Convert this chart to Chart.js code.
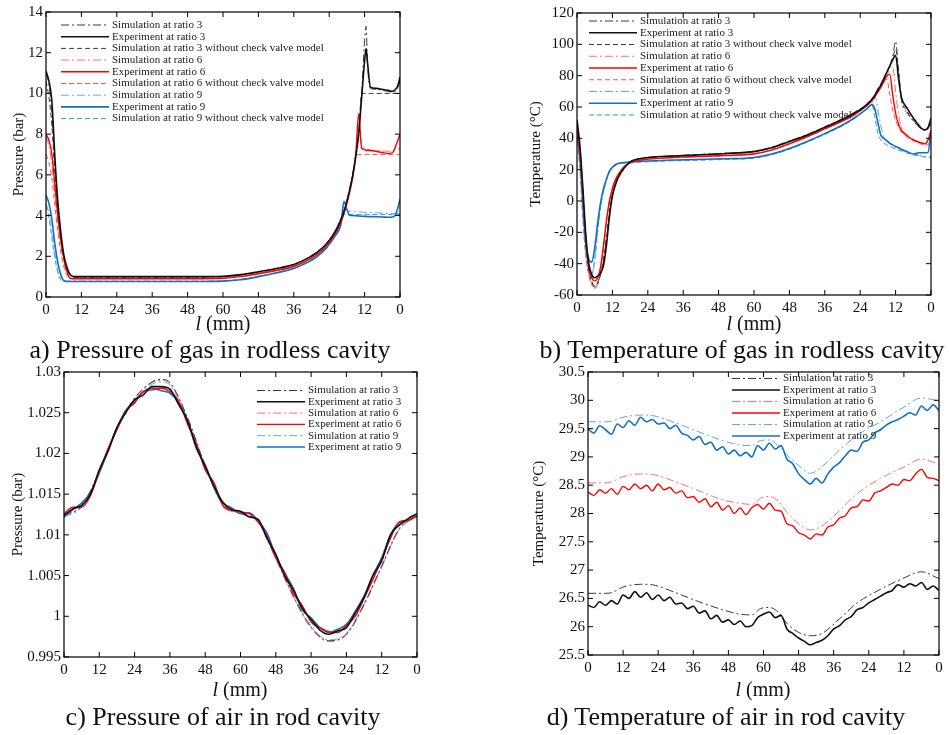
<!DOCTYPE html>
<html>
<head>
<meta charset="utf-8">
<script src="https://cdn.jsdelivr.net/npm/chart.js@4/dist/chart.umd.min.js"></script>
<style>
  body { margin: 0; background: #fff; width: 949px; height: 735px; position: relative; overflow: hidden; font-family: "Liberation Serif", "DejaVu Serif", serif; color: #111; }
  canvas { position: absolute; }
  .xt { position: absolute; font-size: 20px; transform: translateX(-50%); white-space: nowrap; line-height: 20px; }
  .cap { position: absolute; font-size: 26px; transform: translateX(-50%); white-space: nowrap; line-height: 28px; }
</style>
</head>
<body>
<canvas id="ca" width="410" height="320" style="left:0;top:0"></canvas>
<canvas id="cb" width="439" height="320" style="left:510px;top:0"></canvas>
<canvas id="cc" width="430" height="320" style="left:0;top:360px"></canvas>
<canvas id="cd" width="429" height="320" style="left:520px;top:360px"></canvas>

<div class="xt" style="left:223px;top:313px"><i>l</i> (mm)</div>
<div class="xt" style="left:754px;top:313px"><i>l</i> (mm)</div>
<div class="xt" style="left:240px;top:679px"><i>l</i> (mm)</div>
<div class="xt" style="left:763px;top:679px"><i>l</i> (mm)</div>

<div class="cap" style="left:210px;top:336px">a) Pressure of gas in rodless cavity</div>
<div class="cap" style="left:742px;top:336px">b) Temperature of gas in rodless cavity</div>
<div class="cap" style="left:223px;top:703px">c) Pressure of air in rod cavity</div>
<div class="cap" style="left:726px;top:703px">d) Temperature of air in rod cavity</div>

<script>
// stroke position l: 0 -> 60 mm (extend) then 60 -> 0 mm (retract), plotted as 0..120
const strokeTicks = [0, 12, 24, 36, 48, 60, 48, 36, 24, 12, 0];

// ---- a) pressure of gas in rodless cavity (bar)
const xA = [0,1,2,3,4,5,6,7,8,9,10,12,20,30,40,50,60,66,72,78,84,88,92,95,98,100,101,102,103,104,105,106,107,108,108.5,109,110,112,114,116,117.5,118.5,119.3,120];
const aSim3 = [11.0,10.4,9.0,6.5,4.4,3.0,2.0,1.45,1.12,1.0,0.98,0.98,0.98,0.98,0.98,0.98,1.0,1.08,1.22,1.39,1.6,1.86,2.22,2.62,3.24,3.85,4.25,4.75,5.35,6.05,7.0,8.1,10.0,12.6,13.3,11.4,10.25,10.2,10.15,10.1,10.05,10.1,10.3,10.6];
const aExp3 = [11.1,10.6,9.6,6.9,4.7,3.2,2.1,1.5,1.15,1.02,1.0,1.0,1.0,1.0,1.0,1.0,1.02,1.1,1.24,1.4,1.6,1.85,2.2,2.6,3.2,3.8,4.2,4.7,5.3,6.0,6.9,8.0,9.8,11.6,12.2,11.5,10.3,10.25,10.2,10.15,10.1,10.2,10.4,10.8];
const aNoCv3 = [10.6,9.8,8.4,6.1,4.2,2.9,1.95,1.4,1.1,1.0,0.98,0.98,0.98,0.98,0.98,0.98,1.0,1.08,1.22,1.39,1.6,1.86,2.22,2.62,3.24,3.85,4.25,4.75,5.35,6.05,7.0,8.1,10.0,10.0,10.0,10.0,10.0,10.0,10.0,10.0,10.0,10.0,10.0,10.0];
const aSim6 = [7.9,7.4,6.5,5.0,3.6,2.5,1.75,1.2,0.95,0.92,0.92,0.92,0.92,0.92,0.92,0.92,0.95,1.03,1.17,1.33,1.53,1.78,2.13,2.53,3.13,3.73,4.13,4.63,5.25,5.95,6.9,8.4,7.5,7.3,7.25,7.25,7.22,7.2,7.18,7.16,7.15,7.2,7.25,7.3];
const aExp6 = [8.0,7.7,7.0,5.5,4.0,2.8,1.9,1.3,0.95,0.9,0.9,0.9,0.9,0.9,0.9,0.9,0.92,1.0,1.14,1.3,1.5,1.75,2.1,2.5,3.1,3.7,4.1,4.6,5.2,5.9,7.0,9.0,7.3,7.25,7.2,7.2,7.2,7.15,7.1,7.05,7.1,7.4,7.7,8.0];
const aNoCv6 = [7.0,6.6,5.8,4.5,3.2,2.2,1.5,1.1,0.92,0.9,0.9,0.9,0.9,0.9,0.9,0.9,0.93,1.01,1.15,1.31,1.51,1.76,2.11,2.51,3.11,3.71,4.11,4.61,5.22,5.92,6.9,7.0,7.0,7.0,7.0,7.0,7.0,7.0,7.0,7.0,7.0,7.0,7.0,7.0];
const aSim9 = [4.6,4.1,3.2,2.1,1.3,0.9,0.8,0.78,0.78,0.78,0.78,0.78,0.78,0.78,0.78,0.78,0.8,0.87,1.02,1.2,1.42,1.67,2.02,2.42,3.02,3.62,4.5,4.25,4.22,4.2,4.19,4.18,4.17,4.16,4.16,4.15,4.15,4.14,4.12,4.1,4.1,4.1,4.1,4.1];
const aExp9 = [5.0,4.6,3.8,2.6,1.7,1.1,0.8,0.76,0.76,0.76,0.76,0.76,0.76,0.76,0.76,0.76,0.78,0.85,1.0,1.18,1.4,1.65,2.0,2.4,3.0,3.6,4.7,4.3,4.0,4.0,3.99,3.98,3.97,3.96,3.96,3.95,3.95,3.94,3.93,3.92,3.93,4.05,4.4,4.8];
const aNoCv9 = [4.5,3.9,2.9,1.9,1.2,0.85,0.78,0.77,0.77,0.77,0.77,0.77,0.77,0.77,0.77,0.77,0.79,0.86,1.01,1.19,1.41,1.66,2.01,2.41,3.01,3.61,4.05,4.05,4.05,4.05,4.05,4.05,4.05,4.05,4.05,4.05,4.05,4.05,4.05,4.05,4.05,4.05,4.05,4.05];

// ---- b) temperature of gas in rodless cavity (°C)
const xB = [0,1,2,3,4,5,6,7,8,9,10,11,12,13,14,16,18,20,24,30,40,50,60,66,72,78,84,90,94,98,100,101,102,103,104,105,106,107,108,109,110,112,114,116,117,118,119,120];
const bSim3 = [50,32,4,-26,-44,-52,-55,-53,-47,-38,-24,-8,4,11,16,21.5,25,26.5,27.8,28.5,29.5,30.5,31.8,34.3,38.3,42.3,47.3,52.5,56.5,61.5,65.5,68,71.5,74.5,78.5,82.5,86.5,92,102,82,64,56,51,47,45.5,45,46,50];
const bExp3 = [52,35,8,-22,-40,-47,-49,-48,-46,-41,-28,-10,3,10,15,21,25,26.5,27.8,28.5,29.3,30.2,31.5,34,38,42,47,52,56,61,65,67.5,71,74,78,82,86,90,93,78,66,59,53,48,46,45.5,47,53];
const bNoCv3 = [50,33,5,-25,-43,-51,-54,-52,-46,-37,-23,-7,4.5,11.5,16.5,21.5,25,26.5,27.8,28.5,29.5,30.5,31.8,34.3,38.3,42.3,47.3,52.5,56.5,61.5,65.5,68,71.5,74.5,78.5,82.5,86.5,91,97,84,66,57,51.5,47.5,46,45.5,46,49];
const bSim6 = [45,28,0,-30,-47,-54,-56,-53,-44,-30,-14,-1,7,13,16.5,21.5,24,25.3,26.6,27.3,28.2,29,30.2,32.8,36.8,41.3,46.3,51.3,55.5,61,64.5,67,70,73,76.5,80,84,86,70,55,47,42,39.5,37.5,36.5,36,36.5,40];
const bExp6 = [46,30,4,-25,-42,-49,-51,-49,-42,-28,-12,0,8,13.5,17,22,24.5,25.5,26.8,27.5,28.3,29,30,32.5,36.5,41,46,51,55,60.5,64,66.5,69.5,72.5,76,79.5,81,68,56,49,45,41.5,39,37.5,37,36.5,39,45];
const bNoCv6 = [44,27,-1,-29,-46,-53,-55,-52,-43,-29,-13,0,7.5,13,16.5,21.5,24,25.3,26.6,27.3,28.2,29,30.2,32.8,36.8,41.3,46.3,51.3,55.5,61,64.5,67,70,73.5,77,78,68,58,52,47,44,40.5,38.5,37,36,35.5,36,38];
const bSim9 = [40,22,-10,-35,-45,-47,-38,-20,-4,6,13,18.5,21.5,23,24,24.5,24.8,25,25.3,25.8,26.3,26.8,27.6,29.8,33.3,37.8,42.8,48.3,53,58.8,62.5,67,58,48,41,38,36.5,35.3,34.3,33.5,32.7,31.2,30,29.2,28.8,28.5,28.3,28.2];
const bExp9 = [45,28,-2,-28,-37,-39,-30,-14,-1,8,14,19,21.5,23,24,24.5,25,25.2,25.5,26,26.5,27,27.8,30,33.5,38,43,48.5,53,58.5,61.5,58.5,50,42,40,38.5,37,35.8,34.8,34,33,31.5,30,30.8,30.8,30.8,31,45];
const bNoCv9 = [38,20,-12,-36,-46,-47,-37,-19,-3,7,14,19,22,23.5,24,24.3,24.6,24.8,25,25.5,26,26.5,27.3,29.5,33,37.5,42.5,48,52.5,58.5,61,53,43,39,37,35.8,34.8,34,33.2,32.5,31.8,30.5,29.5,28.7,28.3,28,27.8,27.6];

// ---- c) pressure of air in rod cavity (bar)
const xC = [0,3,6,9,12,15,18,21,24,27,30,33,36,39,42,45,48,51,54,57,60,63,66,69,72,75,78,81,84,87,90,93,96,99,102,105,108,111,114,117,120];
const xCsim = [0,6,12,18,24,30,33,36,42,48,54,60,66,72,78,84,90,96,102,108,114,120];
const cSim3 = [1.0124,1.0136,1.0178,1.0232,1.0268,1.0288,1.0291,1.0287,1.0244,1.0185,1.0138,1.0127,1.0116,1.0072,1.0025,0.9987,0.9970,0.9978,1.0015,1.0062,1.0108,1.0124];
const cExp3 = [1.0124,1.0132,1.0136,1.0150,1.0180,1.0203,1.0232,1.0250,1.0266,1.0272,1.0282,1.0282,1.0279,1.0260,1.0240,1.0208,1.0184,1.0160,1.0140,1.0131,1.0129,1.0122,1.0119,1.0096,1.0076,1.0050,1.0032,1.0010,0.9996,0.9983,0.9978,0.9982,0.9986,1.0004,1.0023,1.0050,1.0068,1.0100,1.0112,1.0120,1.0126];
const cSim6 = [1.0123,1.0135,1.0177,1.0231,1.0267,1.0287,1.0290,1.0286,1.0243,1.0184,1.0137,1.0126,1.0115,1.0070,1.0023,0.9985,0.9969,0.9977,1.0013,1.0060,1.0106,1.0123];
const cExp6 = [1.0126,1.0134,1.0134,1.0148,1.0178,1.0206,1.0229,1.0252,1.0262,1.0276,1.0278,1.0280,1.0276,1.0264,1.0236,1.0212,1.0180,1.0164,1.0136,1.0130,1.0128,1.0126,1.0116,1.0099,1.0072,1.0054,1.0028,1.0013,0.9993,0.9986,0.9981,0.9980,0.9989,1.0000,1.0022,1.0045,1.0070,1.0096,1.0116,1.0118,1.0123];
const cSim9 = [1.0122,1.0134,1.0176,1.0229,1.0265,1.0285,1.0288,1.0284,1.0241,1.0183,1.0136,1.0126,1.0115,1.0071,1.0024,0.9987,0.9971,0.9979,1.0015,1.0061,1.0107,1.0122];
const cExp9 = [1.0122,1.0131,1.0139,1.0152,1.0176,1.0204,1.0231,1.0253,1.0263,1.0276,1.0280,1.0277,1.0274,1.0262,1.0241,1.0206,1.0186,1.0158,1.0139,1.0133,1.0126,1.0127,1.0117,1.0102,1.0074,1.0053,1.0034,1.0008,0.9998,0.9986,0.9980,0.9984,0.9990,1.0006,1.0025,1.0050,1.0072,1.0100,1.0115,1.0118,1.0124];

// ---- d) temperature of air in rod cavity (°C)
const xD = [0,2,4,6,8,10,12,14,16,18,20,22,24,26,28,30,32,34,36,38,40,42,44,46,48,50,52,54,56,58,60,62,64,66,68,70,72,74,76,78,80,82,84,86,88,90,92,94,96,98,100,102,104,106,108,110,112,114,116,118,120];
const xDsim = [0,6,8,12,18,22,30,38,46,52,56,59,62,65,68,72,76,80,86,92,100,108,114,120];
const dSim3 = [26.59,26.59,26.60,26.70,26.75,26.74,26.60,26.44,26.30,26.22,26.21,26.32,26.34,26.26,26.06,25.90,25.84,25.88,26.14,26.42,26.66,26.86,26.97,26.85];
const dExp3 = [26.38,26.34,26.44,26.38,26.46,26.40,26.56,26.50,26.62,26.52,26.60,26.48,26.56,26.46,26.52,26.40,26.42,26.32,26.36,26.24,26.28,26.14,26.20,26.08,26.12,26.04,26.10,26.00,26.02,26.16,26.22,26.26,26.16,26.20,25.96,25.88,25.80,25.74,25.68,25.72,25.76,25.84,25.96,26.02,26.12,26.18,26.30,26.34,26.42,26.48,26.54,26.60,26.64,26.74,26.70,26.76,26.72,26.78,26.66,26.72,26.64];
const dSim6 = [28.54,28.54,28.56,28.65,28.70,28.69,28.56,28.40,28.24,28.18,28.16,28.27,28.30,28.22,28.02,27.82,27.71,27.78,28.05,28.35,28.62,28.82,28.96,28.87];
const dExp6 = [28.38,28.32,28.42,28.36,28.44,28.34,28.48,28.42,28.52,28.44,28.50,28.40,28.52,28.42,28.46,28.36,28.40,28.28,28.30,28.20,28.26,28.12,28.20,28.06,28.14,28.00,28.10,27.98,28.10,28.16,28.08,28.18,28.06,28.04,27.82,27.78,27.66,27.62,27.55,27.64,27.62,27.76,27.80,27.92,27.96,28.10,28.12,28.24,28.22,28.36,28.40,28.46,28.52,28.50,28.60,28.58,28.70,28.78,28.64,28.62,28.58];
const dSim9 = [29.62,29.62,29.63,29.70,29.74,29.73,29.60,29.44,29.29,29.21,29.20,29.29,29.30,29.20,29.04,28.85,28.71,28.83,29.12,29.38,29.62,29.88,30.04,29.99];
const dExp9 = [29.50,29.42,29.55,29.48,29.40,29.58,29.52,29.64,29.56,29.70,29.62,29.66,29.58,29.60,29.50,29.56,29.42,29.38,29.30,29.36,29.22,29.26,29.12,29.18,29.05,29.12,29.02,29.08,29.00,29.20,29.12,29.24,29.14,29.20,28.96,28.88,28.70,28.60,28.52,28.62,28.54,28.70,28.82,28.90,29.02,29.12,29.10,29.26,29.30,29.42,29.48,29.56,29.62,29.66,29.72,29.78,29.74,29.90,29.82,29.92,29.82];

// line styles
const DASHDOT = [8, 3, 2, 3];
const DASHED = [5, 3];
const st = {
  sim3: { borderColor: '#3a3a3a', borderWidth: 1, borderDash: DASHDOT, order: 2 },
  exp3: { borderColor: '#111111', borderWidth: 1.6, order: 0 },
  nocv3: { borderColor: '#3a3a3a', borderWidth: 1, borderDash: DASHED, order: 2 },
  sim6: { borderColor: '#ff6b6b', borderWidth: 1, borderDash: DASHDOT, order: 2 },
  exp6: { borderColor: '#ff0000', borderWidth: 1.4, order: 0 },
  nocv6: { borderColor: '#ff5050', borderWidth: 1, borderDash: DASHED, order: 2 },
  sim9: { borderColor: '#5aa8e8', borderWidth: 1, borderDash: DASHDOT, order: 2 },
  exp9: { borderColor: '#1170c4', borderWidth: 1.6, order: 0 },
  nocv9: { borderColor: '#3b8fdc', borderWidth: 1, borderDash: DASHED, order: 2 }
};

function line(label, xs, ys, style) {
  return Object.assign({
    label: label,
    data: xs.map((x, i) => ({ x: x, y: ys[i] })),
    pointRadius: 0,
    fill: false,
    cubicInterpolationMode: 'monotone'
  }, style);
}

Chart.defaults.font.family = '"Liberation Serif", "DejaVu Serif", serif';
Chart.defaults.color = '#111';

// box round the plot with inward ticks on all four sides
const framePlugin = {
  id: 'frame',
  afterDatasetsDraw(chart) {
    const { ctx, chartArea: a, scales: { x, y } } = chart;
    ctx.save();
    ctx.strokeStyle = '#000';
    ctx.lineWidth = 1.2;
    ctx.strokeRect(a.left, a.top, a.right - a.left, a.bottom - a.top);
    ctx.lineWidth = 1;
    ctx.beginPath();
    x.ticks.forEach(t => {
      const px = x.getPixelForValue(t.value);
      ctx.moveTo(px, a.bottom); ctx.lineTo(px, a.bottom - 5);
      ctx.moveTo(px, a.top); ctx.lineTo(px, a.top + 5);
    });
    y.ticks.forEach(t => {
      const py = y.getPixelForValue(t.value);
      ctx.moveTo(a.left, py); ctx.lineTo(a.left + 5, py);
      ctx.moveTo(a.right, py); ctx.lineTo(a.right - 5, py);
    });
    ctx.stroke();
    ctx.restore();
  }
};

// legend drawn inside the plot, like the original figure
const innerLegend = {
  id: 'innerLegend',
  afterDraw(chart, args, opts) {
    const ctx = chart.ctx;
    ctx.save();
    ctx.font = '11px "Liberation Serif", serif';
    ctx.textBaseline = 'middle';
    chart.data.datasets.forEach((ds, i) => {
      const y = opts.y + i * opts.row;
      ctx.strokeStyle = ds.borderColor;
      ctx.lineWidth = ds.borderWidth;
      ctx.setLineDash(ds.borderDash || []);
      ctx.beginPath();
      ctx.moveTo(opts.x, y);
      ctx.lineTo(opts.x + opts.len, y);
      ctx.stroke();
      ctx.setLineDash([]);
      ctx.fillStyle = '#222';
      ctx.fillText(ds.label, opts.x + opts.len + 3, y);
    });
    ctx.restore();
  }
};

function makeChart(id, p) {
  return new Chart(document.getElementById(id), {
    type: 'line',
    data: { datasets: p.datasets },
    options: {
      responsive: false,
      animation: false,
      layout: { padding: { top: p.padTop, right: p.padRight, left: 0, bottom: 0 } },
      plugins: {
        legend: { display: false },
        tooltip: { enabled: false },
        innerLegend: p.legend
      },
      scales: {
        x: {
          type: 'linear', min: 0, max: 120,
          grid: { display: false, drawTicks: false },
          border: { display: false },
          afterFit: s => { s.height = p.xh; },
          ticks: {
            stepSize: 12, autoSkip: false, maxRotation: 0, padding: 4,
            font: { size: 15 },
            callback: v => strokeTicks[Math.round(v / 12)]
          }
        },
        y: {
          type: 'linear', min: p.ymin, max: p.ymax,
          grid: { display: false, drawTicks: false },
          border: { display: false },
          afterFit: s => { s.width = p.yw; },
          ticks: {
            stepSize: p.ystep, padding: 3,
            font: { size: 15 },
            callback: v => String(+v.toFixed(3))
          },
          title: { display: true, text: p.ytitle, font: { size: 15 }, padding: { top: p.titlePad, bottom: 0 } }
        }
      }
    },
    plugins: [framePlugin, innerLegend]
  });
}

makeChart('ca', {
  datasets: [
    line('Simulation at ratio 3', xA, aSim3, st.sim3),
    line('Experiment at ratio 3', xA, aExp3, st.exp3),
    line('Simulation at ratio 3 without check valve model', xA, aNoCv3, st.nocv3),
    line('Simulation at ratio 6', xA, aSim6, st.sim6),
    line('Experiment at ratio 6', xA, aExp6, st.exp6),
    line('Simulation at ratio 6 without check valve model', xA, aNoCv6, st.nocv6),
    line('Simulation at ratio 9', xA, aSim9, st.sim9),
    line('Experiment at ratio 9', xA, aExp9, st.exp9),
    line('Simulation at ratio 9 without check valve model', xA, aNoCv9, st.nocv9)
  ],
  padTop: 10, padRight: 10, xh: 23, yw: 46,
  ymin: 0, ymax: 14, ystep: 2, ytitle: 'Pressure (bar)', titlePad: 10,
  legend: { x: 61, y: 25, row: 11.7, len: 48 }
});

makeChart('cb', {
  datasets: [
    line('Simulation at ratio 3', xB, bSim3, st.sim3),
    line('Experiment at ratio 3', xB, bExp3, st.exp3),
    line('Simulation at ratio 3 without check valve model', xB, bNoCv3, st.nocv3),
    line('Simulation at ratio 6', xB, bSim6, st.sim6),
    line('Experiment at ratio 6', xB, bExp6, st.exp6),
    line('Simulation at ratio 6 without check valve model', xB, bNoCv6, st.nocv6),
    line('Simulation at ratio 9', xB, bSim9, st.sim9),
    line('Experiment at ratio 9', xB, bExp9, st.exp9),
    line('Simulation at ratio 9 without check valve model', xB, bNoCv9, st.nocv9)
  ],
  padTop: 13, padRight: 18, xh: 25, yw: 67,
  ymin: -60, ymax: 120, ystep: 20, ytitle: 'Temperature (°C)', titlePad: 17,
  legend: { x: 79, y: 21, row: 11.75, len: 48 }
});

makeChart('cc', {
  datasets: [
    line('Simulation at ratio 3', xCsim, cSim3, st.sim3),
    line('Experiment at ratio 3', xC, cExp3, st.exp3),
    line('Simulation at ratio 6', xCsim, cSim6, st.sim6),
    line('Experiment at ratio 6', xC, cExp6, st.exp6),
    line('Simulation at ratio 9', xCsim, cSim9, st.sim9),
    line('Experiment at ratio 9', xC, cExp9, st.exp9)
  ],
  padTop: 12, padRight: 13, xh: 23, yw: 64,
  ymin: 0.995, ymax: 1.03, ystep: 0.005, ytitle: 'Pressure (bar)', titlePad: 9,
  legend: { x: 257, y: 30.5, row: 11.3, len: 48 }
});

makeChart('cd', {
  datasets: [
    line('Simulation at ratio 3', xDsim, dSim3, st.sim3),
    line('Experiment at ratio 3', xD, dExp3, st.exp3),
    line('Simulation at ratio 6', xDsim, dSim6, st.sim6),
    line('Experiment at ratio 6', xD, dExp6, st.exp6),
    line('Simulation at ratio 9', xDsim, dSim9, st.sim9),
    line('Experiment at ratio 9', xD, dExp9, st.exp9)
  ],
  padTop: 12, padRight: 10, xh: 25, yw: 68,
  ymin: 25.5, ymax: 30.5, ystep: 0.5, ytitle: 'Temperature (°C)', titlePad: 10,
  legend: { x: 212, y: 18.5, row: 11.5, len: 48 }
});
</script>
</body>
</html>
